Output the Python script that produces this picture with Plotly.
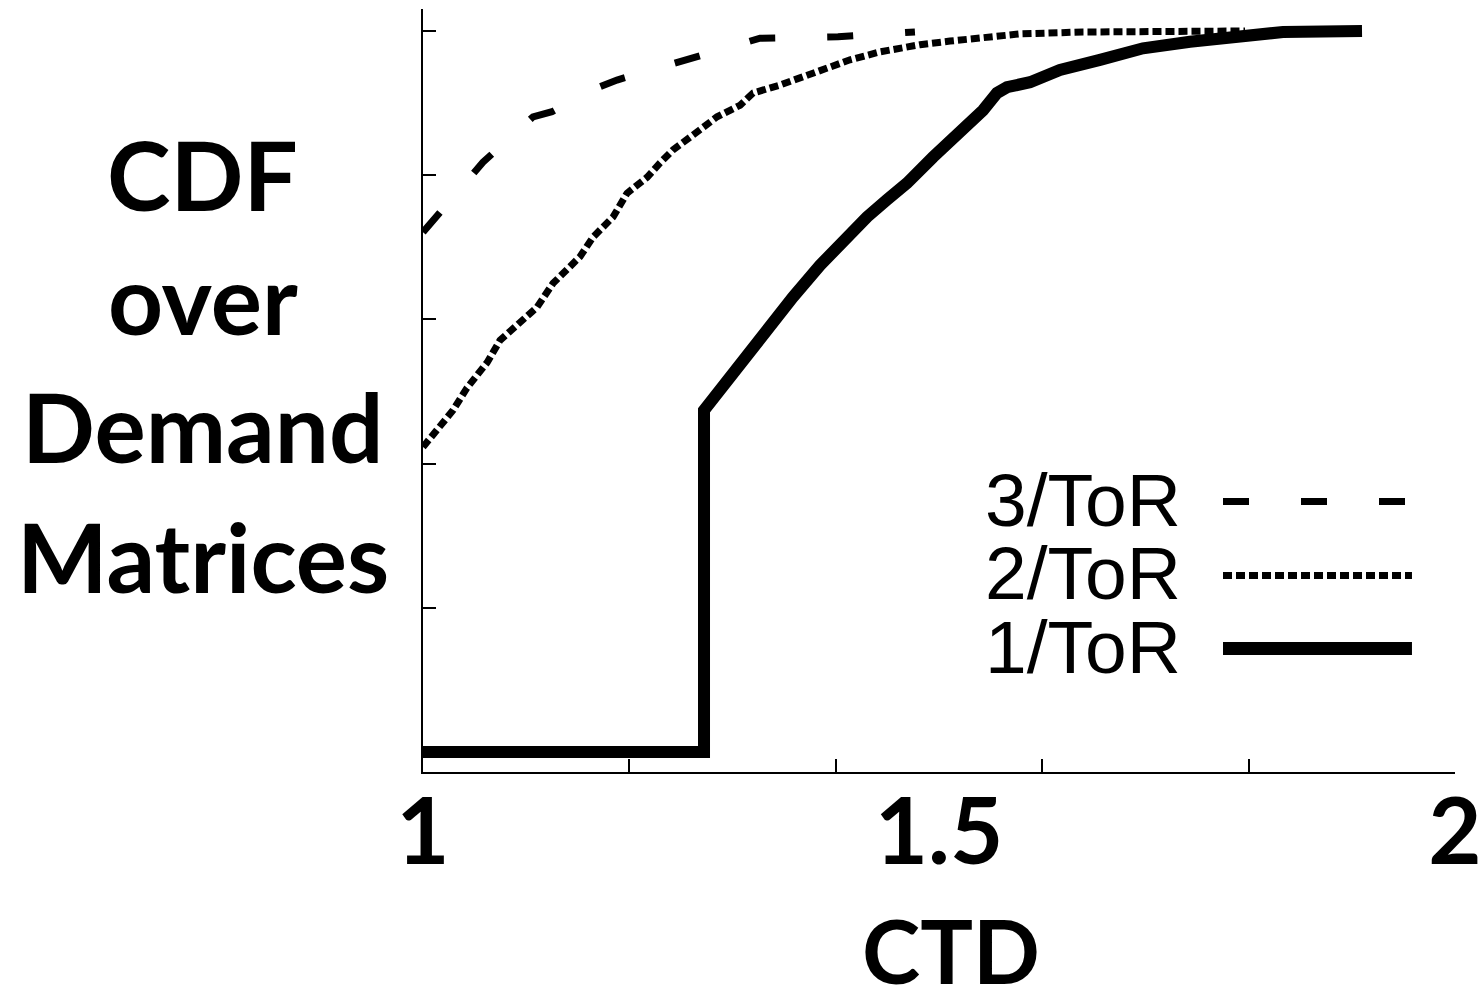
import plotly.graph_objects as go

# ---- data ----
tor1_x = [1.000, 1.2723, 1.2723, 1.2878, 1.3140, 1.3333, 1.3585, 1.3847, 1.4041, 1.4302,
          1.4496, 1.4690, 1.4942, 1.5203, 1.5426, 1.5562, 1.5659, 1.5882, 1.6172, 1.6560,
          1.6977, 1.7432, 1.7917, 1.8333, 1.9099]
tor1_y = [0.000, 0.000, 0.474, 0.502, 0.553, 0.589, 0.631, 0.675, 0.706, 0.742,
          0.766, 0.789, 0.825, 0.859, 0.890, 0.914, 0.922, 0.929, 0.946, 0.960,
          0.976, 0.985, 0.994, 0.9986, 1.000]

tor2_x = [1.000, 1.0291, 1.0426, 1.0620, 1.0746, 1.0940, 1.1105, 1.1260, 1.1521, 1.1647,
          1.1841, 1.1977, 1.2171, 1.2297, 1.2422, 1.2684, 1.2849, 1.3072, 1.3198, 1.3459,
          1.3721, 1.3847, 1.4138, 1.4428, 1.4816, 1.5107, 1.5785, 1.6395, 1.7965]
tor2_y = [0.423, 0.474, 0.505, 0.540, 0.571, 0.595, 0.617, 0.650, 0.687, 0.714,
          0.742, 0.775, 0.797, 0.817, 0.835, 0.863, 0.881, 0.897, 0.914, 0.925,
          0.939, 0.946, 0.960, 0.971, 0.981, 0.986, 0.996, 0.9986, 1.000]

tor3_x = [1.000, 1.0097, 1.0455, 1.0581, 1.0969, 1.1066, 1.1250, 1.1686, 1.1880, 1.2374,
          1.2578, 1.3062, 1.3266, 1.4021, 1.4545, 1.4767]
tor3_y = [0.721, 0.738, 0.797, 0.818, 0.867, 0.881, 0.888, 0.921, 0.932, 0.953,
          0.963, 0.983, 0.990, 0.992, 0.997, 0.9986]

series_names = ["3/ToR", "2/ToR", "1/ToR"]
x_tick_vals = [1, 1.5, 2]
x_tick_text = ["1", "1.5", "2"]
x_minor_ticks = [1.0, 1.2, 1.4, 1.6, 1.8, 2.0]
y_ticks = [0, 0.2, 0.4, 0.6, 0.8, 1.0]
y_title_lines = ["CDF", "over", "Demand", "Matrices"]
x_title = "CTD"

BOLD = "Lato"
LEG = "Liberation Sans"

fig = go.Figure()
fig.add_trace(go.Scatter(x=tor3_x, y=tor3_y, mode="lines", name=series_names[0],
                         line=dict(color="black", width=7, dash="26px,52px")))
fig.add_trace(go.Scatter(x=tor2_x, y=tor2_y, mode="lines", name=series_names[1],
                         line=dict(color="black", width=7, dash="9px,4px")))
fig.add_trace(go.Scatter(x=tor1_x, y=tor1_y, mode="lines", name=series_names[2],
                         line=dict(color="black", width=12)))

# legend samples (paper coords)
leg_rows = [(0.3545, "26px,52px", 7, 0.9516), (0.2575, "9px,4px", 7, 0.9583), (0.1619, "solid", 13, 0.9583)]
shapes = []
for (yy, dash, w, x1) in leg_rows:
    shapes.append(dict(type="line", xref="paper", yref="paper", x0=0.7752, x1=x1, y0=yy, y1=yy,
                       line=dict(color="black", width=w, dash=dash)))

annotations = []
# legend text as a single right-aligned block (line pitch set by base font size)
leg_text = "<br>".join('<span style="font-size:75px">%s</span>' % n for n in series_names)
annotations.append(dict(xref="paper", yref="paper", x=0.7364, y=0.2608, xanchor="right", yanchor="middle",
                        align="right", text=leg_text, showarrow=False,
                        font=dict(family=LEG, size=56.5, color="black")))

# y title lines
for txt, yy in zip(y_title_lines, [0.785, 0.6225, 0.4545, 0.2835]):
    annotations.append(dict(xref="paper", yref="paper", x=-0.2132, y=yy, xanchor="center", yanchor="middle",
                            text="<b>%s</b>" % txt, showarrow=False,
                            font=dict(family=BOLD, size=96, color="black")))
# x title
annotations.append(dict(xref="paper", yref="paper", x=0.5116, y=-0.2335, xanchor="center", yanchor="middle",
                        text="<b>%s</b>" % x_title, showarrow=False,
                        font=dict(family=BOLD, size=88, color="black")))

fig.update_layout(
    width=1480, height=996,
    margin=dict(l=423, r=25, t=9, b=224),
    paper_bgcolor="white", plot_bgcolor="white",
    showlegend=False,
    shapes=shapes, annotations=annotations,
    xaxis=dict(range=[1, 2], tickvals=x_tick_vals, ticktext=["<b>%s</b>" % t for t in x_tick_text],
               ticks="", showgrid=False, zeroline=False, showline=True, linecolor="black", linewidth=2,
               tickfont=dict(family=BOLD, size=92, color="black"), ticklabelstandoff=-20,
               ticklabeloverflow="allow", automargin=False),
    xaxis2=dict(range=[1, 2], overlaying="x", anchor="y", side="bottom", tickvals=x_minor_ticks,
                ticks="inside", ticklen=13, tickwidth=2, tickcolor="black", showticklabels=False,
                showgrid=False, zeroline=False, showline=False, automargin=False),
    yaxis=dict(range=[-0.0277, 1.0305], tickvals=y_ticks, ticks="inside", ticklen=13, tickwidth=2,
               tickcolor="black", showticklabels=False, showgrid=False, zeroline=False,
               showline=True, linecolor="black", linewidth=2, automargin=False),
)
# dummy trace to activate xaxis2
fig.add_trace(go.Scatter(x=[1, 2], y=[None, None], xaxis="x2", yaxis="y", mode="lines",
                         showlegend=False, hoverinfo="skip"))

fig.write_html("out.html")
